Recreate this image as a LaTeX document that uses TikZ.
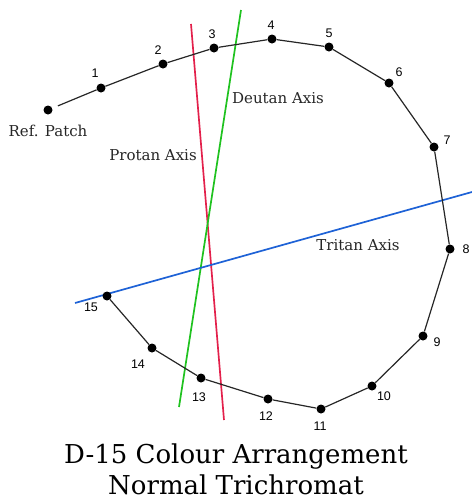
\documentclass[tikz,border=0pt]{standalone}
\usepackage{fontspec}
\newfontfamily\numfont{Liberation Sans}
\newfontfamily\capfont{DejaVu Serif}
\usepackage{tikz}
\usetikzlibrary{positioning}
\definecolor{protan}{HTML}{E3204B}
\definecolor{deutan}{HTML}{1FC21F}
\definecolor{tritan}{HTML}{1E62D6}
\tikzset{
  capdot/.style={circle, fill=black, inner sep=0pt, minimum size=9pt},
  num/.style={font=\numfont\fontsize{12.5}{13}\selectfont, inner sep=0pt},
  axislbl/.style={font=\capfont\fontsize{15}{17}\selectfont, inner sep=0pt, text=black!85},
  titlelbl/.style={font=\capfont\fontsize{26}{30}\selectfont, inner sep=0pt, anchor=base},
  axisline/.style={line width=1.7pt},
  seq/.style={line width=1.2pt, draw=black!85},
}

\begin{document}
\begin{tikzpicture}[x=1pt,y=-1pt]
  \useasboundingbox (0,0) rectangle (472,499);
  % axes
  \coordinate (pa) at (191,24);  \coordinate (pb) at (224,420);
  \coordinate (da) at (241,10);  \coordinate (db) at (179,407);
  \coordinate (ta) at (75,303);  \coordinate (tb) at (472,192);
  \draw[axisline,draw=protan] (pa) -- (pb);
  \draw[axisline,draw=deutan] (da) -- (db);
  \draw[axisline,draw=tritan] (ta) -- (tb);
  \node[axislbl] (deut) at (278,98) {Deutan Axis};
  \node[axislbl] (prot) at (153,155) {Protan Axis};
  \node[axislbl] (trit) at (358,245) {Tritan Axis};
  % caps
  \node[capdot] (p0) at (48,110) {};
  \node[axislbl] (l0) at (48,131) {Ref. Patch};
  \foreach \i/\x/\y/\lx/\ly in {1/101/88/95/73, 2/163/64/158/50, 3/214/48/212/34,
      4/272/39/271/25, 5/329/47/329/33, 6/389/83/399/72, 7/434/147/447/140,
      8/450/249/466/249, 9/423/336/437/342, 10/372/386/384/396, 11/321/409/320/426,
      12/268/399/266/416, 13/201/378/199/397, 14/152/348/138/364, 15/107/296/91/307}{
    \node[capdot] (p\i) at (\x,\y) {};
    \node[num] (l\i) at (\lx,\ly) {\i};
  }
  \draw[seq,shorten <=6pt] (p0) -- (p1);
  \foreach \i [evaluate=\i as \j using int(\i+1)] in {1,...,14}
    \draw[seq] (p\i) -- (p\j);
  % title
  \node[titlelbl] (title) at (236,463) {D-15 Colour Arrangement};
  \node[titlelbl] (subtitle) at (236,494) {Normal Trichromat};
\end{tikzpicture}
\end{document}
